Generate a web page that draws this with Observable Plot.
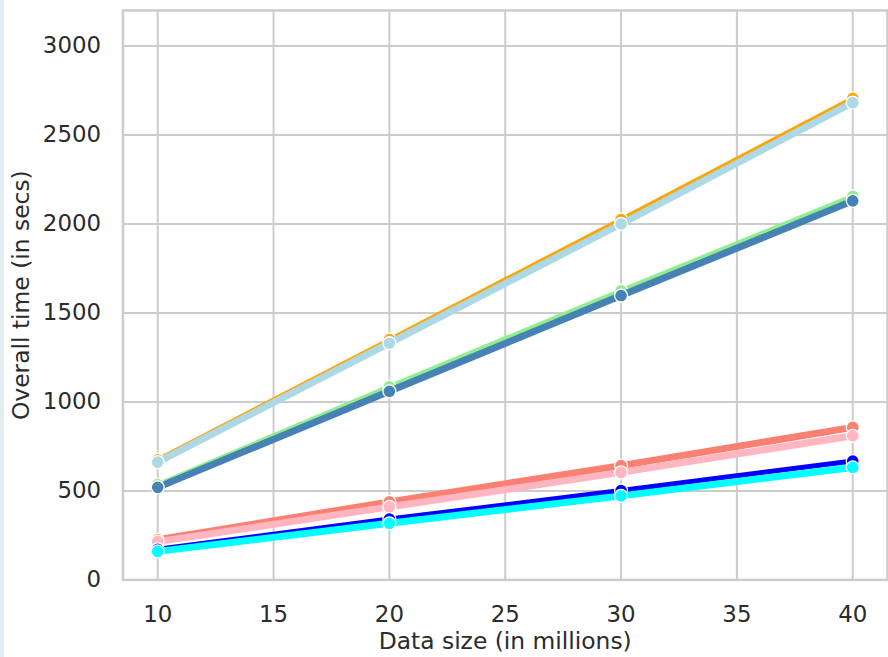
<!DOCTYPE html>
<html>
<head>
<meta charset="utf-8">
<script src="https://cdn.jsdelivr.net/npm/d3@7"></script>
<script src="https://cdn.jsdelivr.net/npm/@observablehq/plot@0.6"></script>
<style>
  html, body { margin: 0; padding: 0; background: #ffffff; overflow: hidden; width: 888px; height: 657px; }
  #strip { position: absolute; left: 0; top: 0; width: 4px; height: 657px; background: #e2edf4; }
  #chart { position: absolute; left: 0; top: 0; }
</style>
</head>
<body>
<div id="chart"></div>
<div id="strip"></div>
<script>
// ---- data ----
const dataSizes = [10, 20, 30, 40];
const seriesNames = ["orange", "lightblue", "lightgreen", "steelblue", "salmon", "pink", "blue", "cyan"];
const seriesColors = ["#ffa500", "#add8e6", "#90ee90", "#4682b4", "#fa8072", "#ffb6c1", "#0000ff", "#00ffff"];
const orangeVals = [675, 1350, 2025, 2706];
const lightblueVals = [662, 1330, 2000, 2682];
const lightgreenVals = [535, 1085, 1625, 2155];
const steelblueVals = [520, 1060, 1598, 2130];
const salmonVals = [226, 438, 642, 857];
const pinkVals = [215, 410, 604, 810];
const blueVals = [172, 342, 502, 668];
const cyanVals = [160, 318, 472, 632];
const xTicks = [10, 15, 20, 25, 30, 35, 40];
const yTicks = [0, 500, 1000, 1500, 2000, 2500, 3000];
const xLabel = "Data size (in millions)";
const yLabel = "Overall time (in secs)";

const allVals = [orangeVals, lightblueVals, lightgreenVals, steelblueVals, salmonVals, pinkVals, blueVals, cyanVals];
const widths = [4.5, 7, 5, 7, 7, 7, 5, 7];

const seriesMarks = allVals.flatMap((vals, i) => {
  const rows = dataSizes.map((x, j) => ({x, y: vals[j], s: seriesNames[i]}));
  return [
    Plot.line(rows, {x: "x", y: "y", stroke: seriesColors[i], strokeWidth: widths[i]}),
    Plot.dot(rows, {x: "x", y: "y", r: 6.5, fill: seriesColors[i], stroke: "#ffffff", strokeWidth: 1.3})
  ];
});

const chart = Plot.plot({
  width: 892,
  height: 657,
  marginLeft: 123,
  marginRight: 1,
  marginTop: 10,
  marginBottom: 75,
  style: {fontFamily: "DejaVu Sans", fontSize: "23px", color: "#2b2b2b", background: "transparent", overflow: "visible"},
  x: {domain: [8.5, 41.5]},
  y: {domain: [0, 3200]},
  marks: [
    Plot.gridX(xTicks, {stroke: "#cccccc", strokeOpacity: 1, strokeWidth: 2}),
    Plot.gridY(yTicks, {stroke: "#cccccc", strokeOpacity: 1, strokeWidth: 2}),
    Plot.frame({stroke: "#cccccc", strokeWidth: 2.5}),
    Plot.axisX(xTicks, {tickSize: 0, tickPadding: 26, label: null, fontSize: 23, tickFormat: d => String(d)}),
    Plot.axisY(yTicks, {tickSize: 0, tickPadding: 22, label: null, fontSize: 23, tickFormat: d => String(d)}),
    Plot.text([xLabel], {text: d => d, frameAnchor: "bottom", lineAnchor: "middle", textAnchor: "middle", dy: 62, fontSize: 23.5, fill: "#2b2b2b"}),
    Plot.text([yLabel], {text: d => d, frameAnchor: "left", lineAnchor: "middle", textAnchor: "middle", rotate: -90, dx: -102, fontSize: 23.5, fill: "#2b2b2b"}),
    ...seriesMarks
  ]
});
document.getElementById("chart").appendChild(chart);
</script>
</body>
</html>
